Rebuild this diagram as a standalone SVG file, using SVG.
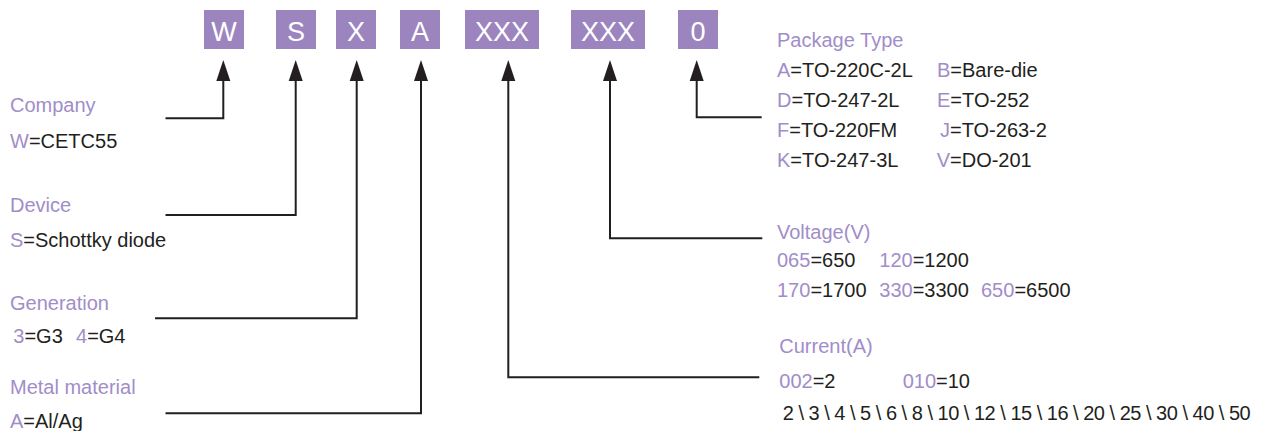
<svg xmlns="http://www.w3.org/2000/svg" width="1268" height="431" viewBox="0 0 1268 431">
<style>
.box{fill:#9c85bf}
.bt{font-family:"Liberation Sans",Arial,sans-serif;font-size:27px;fill:#ffffff;text-anchor:middle}
.t{font-family:"Liberation Sans",Arial,sans-serif;font-size:20px;fill:#231f20}
.p{fill:#a18dc9}
.c{fill:none;stroke:#231f20;stroke-width:2}
</style>
<defs>
<marker id="ah" markerUnits="userSpaceOnUse" markerWidth="22" markerHeight="14" refX="0" refY="7" orient="auto" overflow="visible">
<path d="M0,0 L21,7 L0,14 z" fill="#231f20"/>
</marker>
</defs>
<rect width="1268" height="431" fill="#ffffff"/>
<g id="code">
<g id="box-w"><rect class="box" x="204" y="10" width="40" height="39"/><text class="bt" x="224" y="41">W</text></g>
<g id="box-s"><rect class="box" x="276" y="10" width="40" height="39"/><text class="bt" x="296" y="41">S</text></g>
<g id="box-x"><rect class="box" x="336" y="10" width="40" height="39"/><text class="bt" x="356" y="41">X</text></g>
<g id="box-a"><rect class="box" x="400" y="10" width="40" height="39"/><text class="bt" x="420" y="41">A</text></g>
<g id="box-xxx1"><rect class="box" x="465" y="10" width="74" height="39"/><text class="bt" x="502" y="41">XXX</text></g>
<g id="box-xxx2"><rect class="box" x="571" y="10" width="74" height="39"/><text class="bt" x="608" y="41">XXX</text></g>
<g id="box-0"><rect class="box" x="678" y="10" width="40" height="39"/><text class="bt" x="698" y="41">0</text></g>
</g>
<g id="connectors">
<path class="c" d="M165.5,118.3 H223.3 V81" marker-end="url(#ah)"/>
<path class="c" d="M165.5,215 H295.7 V81" marker-end="url(#ah)"/>
<path class="c" d="M155,318.3 H356.7 V81" marker-end="url(#ah)"/>
<path class="c" d="M165.5,413.3 H421 V81" marker-end="url(#ah)"/>
<path class="c" d="M759.3,377.3 H508.3 V81" marker-end="url(#ah)"/>
<path class="c" d="M762.3,238.3 H610 V81" marker-end="url(#ah)"/>
<path class="c" d="M761.7,117.3 H696.7 V81" marker-end="url(#ah)"/>
</g>
<g id="company">
<text class="t p" x="10" y="111.5">Company</text>
<text class="t" x="10" y="148"><tspan class="p">W</tspan>=CETC55</text>
</g>
<g id="device">
<text class="t p" x="10" y="212">Device</text>
<text class="t" x="10" y="246.5"><tspan class="p">S</tspan>=Schottky diode</text>
</g>
<g id="generation">
<text class="t p" x="10" y="310">Generation</text>
<text class="t" x="13.3" y="343.3"><tspan class="p">3</tspan>=G3</text>
<text class="t" x="76" y="343.3"><tspan class="p">4</tspan>=G4</text>
</g>
<g id="metal">
<text class="t p" x="10" y="394">Metal material</text>
<text class="t" x="10" y="428.3"><tspan class="p">A</tspan>=Al/Ag</text>
</g>
<g id="package">
<text class="t p" x="777" y="46.7">Package Type</text>
<text class="t" x="777" y="77"><tspan class="p">A</tspan>=TO-220C-2L</text>
<text class="t" x="937" y="77"><tspan class="p">B</tspan>=Bare-die</text>
<text class="t" x="777" y="107"><tspan class="p">D</tspan>=TO-247-2L</text>
<text class="t" x="937" y="107"><tspan class="p">E</tspan>=TO-252</text>
<text class="t" x="777" y="137"><tspan class="p">F</tspan>=TO-220FM</text>
<text class="t" x="940" y="137"><tspan class="p">J</tspan>=TO-263-2</text>
<text class="t" x="777" y="166.5"><tspan class="p">K</tspan>=TO-247-3L</text>
<text class="t" x="936.7" y="166.5"><tspan class="p">V</tspan>=DO-201</text>
</g>
<g id="voltage">
<text class="t p" x="777" y="238.5">Voltage(V)</text>
<text class="t" x="777" y="267.3"><tspan class="p">065</tspan>=650</text>
<text class="t" x="879.3" y="267.3"><tspan class="p">120</tspan>=1200</text>
<text class="t" x="777" y="297.3"><tspan class="p">170</tspan>=1700</text>
<text class="t" x="879.3" y="297.3"><tspan class="p">330</tspan>=3300</text>
<text class="t" x="981" y="297.3"><tspan class="p">650</tspan>=6500</text>
</g>
<g id="current">
<text class="t p" x="779.3" y="353.3">Current(A)</text>
<text class="t" x="779.3" y="387.5"><tspan class="p">002</tspan>=2</text>
<text class="t" x="902.7" y="387.5"><tspan class="p">010</tspan>=10</text>
<text class="t" x="782.7" y="420" textLength="468" lengthAdjust="spacing">2 \ 3 \ 4 \ 5 \ 6 \ 8 \ 10 \ 12 \ 15 \ 16 \ 20 \ 25 \ 30 \ 40 \ 50</text>
</g>
</svg>
